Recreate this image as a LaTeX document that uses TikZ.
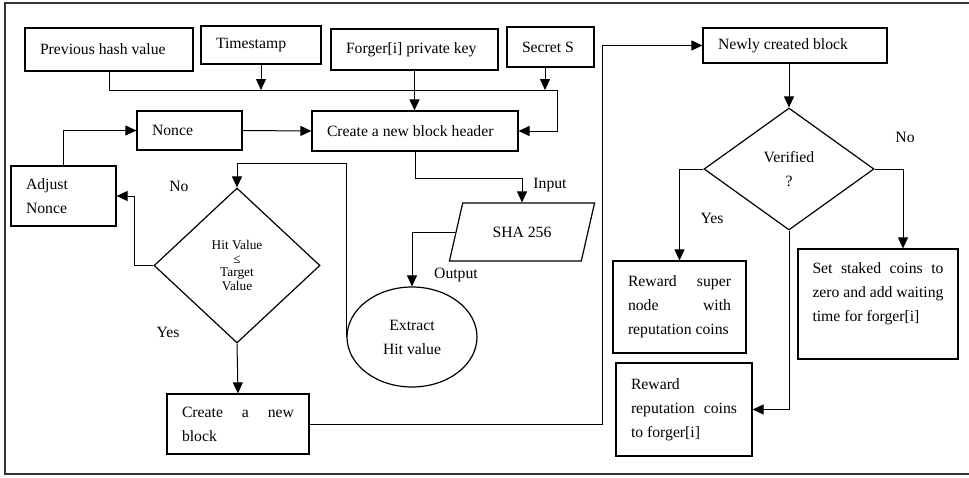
\documentclass[tikz,border=0pt]{standalone}
\usepackage{fontspec}
\setmainfont{Liberation Serif}
\usetikzlibrary{arrows.meta,shapes.geometric}
\setlength{\parindent}{0pt}
% a line spread over the full text width
\newcommand{\fullline}[1]{\leavevmode\hbox to \hsize{#1}}

\begin{document}
\begin{tikzpicture}[x=1pt,y=-1pt,
  every node/.style={font=\fontsize{15.7}{24}\selectfont},
  box/.style={draw, line width=1.2pt, inner xsep=15pt, inner ysep=0pt, align=flush left},
  decision/.style={draw, diamond, line width=1.2pt, inner sep=0pt, align=flush center},
  link/.style={line width=1pt},
  arr/.style={link, -{Triangle[length=11pt,width=10pt]}},
  lbl/.style={inner sep=0pt},
]
\useasboundingbox (0,0) rectangle (969,477);

% outer frame (open to the right)
\draw[line width=1.6pt, black!80] (980,3) -- (5,3) -- (5,474) -- (980,474);

% inputs of the block header
\node[box, text width=138pt, minimum height=43pt] (prev) at (109,49.5) {Previous hash value};
\node[box, text width=90pt, minimum height=38pt] (ts) at (261,45) {Timestamp};
\node[box, text width=137pt, minimum height=41pt] (forger) at (414.5,49.5) {Forger[i] private key};
\node[box, text width=57pt, minimum height=40pt] (secret) at (550.5,47) {Secret S};

\node[box, text width=176pt, minimum height=40pt] (header) at (415,131) {Create a new block header};
\node[box, text width=75pt, minimum height=39pt] (nonce) at (189.5,130.5) {Nonce};
\node[box, text width=75pt, minimum height=60pt] (adjust) at (63.5,196) {Adjust\\Nonce};

% hashing
\node[draw, trapezium, trapezium left angle=58, trapezium right angle=122,
      trapezium stretches=true, minimum width=146pt, minimum height=58pt,
      line width=1.2pt, inner sep=0pt] (sha) at (522,232) {SHA 256};
\node[draw, ellipse, minimum width=130pt, minimum height=100pt, inner sep=0pt,
      align=flush center, line width=1.2pt] (extract) at (412,337) {Extract\\Hit value};

% target check
\node[decision, minimum width=166pt, minimum height=155pt,
      font=\fontsize{13.3}{13.6}\selectfont] (hit) at (237,265.5) {Hit Value\\≤\\Target\\Value};
\node[box, text width=112pt, minimum height=60pt] (newblock) at (238,424)
  {\fullline{Create\hfill a\hfill new}\\block};

% verification
\node[box, text width=154pt, minimum height=35pt] (newly) at (795,45.5) {Newly created block};
\node[decision, minimum width=170pt, minimum height=122pt] (verified) at (789,169) {Verified\\?};
\node[box, text width=103pt, minimum height=92pt] (super) at (679.5,307)
  {\fullline{Reward\hfill super}\\\fullline{node\hfill with}\\reputation coins};
\node[box, text width=106pt, minimum height=93pt] (repfor) at (684,409.5)
  {Reward\\\fullline{reputation\hfill coins}\\to forger[i]};
\node[box, text width=131pt, inner xsep=14.5pt, minimum height=110pt] (staked) at (878,304)
  {\fullline{Set\hfill staked\hfill coins\hfill to}\\\fullline{zero\hfill and\hfill add\hfill waiting}\\time for forger[i]\\\mbox{}};

% labels
\node[lbl] (noL) at (179,186) {No};
\node[lbl] (yesL) at (168,332) {Yes};
\node[lbl] (noR) at (905,137) {No};
\node[lbl] (yesR) at (712,218) {Yes};
\node[lbl] (inL) at (550,185) {Input};
\node[lbl] (outL) at (456,275) {Output};

% connectors
\coordinate (busR) at (557,90);
\draw[arr] (prev.south) |- (busR) |- (header.east);
\draw[arr] (ts.south) -- (ts.south |- busR);
\draw[arr] (forger.south) -- (forger.south |- header.north);
\draw[arr] ([xshift=-5.5pt]secret.south) -- ([xshift=-5.5pt]secret.south |- busR);
\draw[arr] (nonce.east) -- (header.west);
\draw[arr] (adjust.north) |- (nonce.west);
\draw[arr] (header.south) -- ++(0,27) -| (sha.north);
\draw[arr] (sha.west) -| (extract.north);
\draw[arr] (extract.west) -- (extract.west |- 0,163) -| (hit.north);
\draw[arr] (hit.west) -- ++(-19,0) |- (adjust.east);
\draw[arr] (hit.south) -- (newblock.north);
\draw[arr] (newblock.east) -| ([xshift=-100pt]newly.west) -- (newly.west);
\draw[arr] (verified.north |- newly.south) -- (verified.north);
\draw[arr] (verified.west) -| (super.north);
\draw[arr] (verified.south) |- (repfor.east);
\draw[arr] (verified.east) -| ([xshift=25pt]staked.north);
\end{tikzpicture}
\end{document}
